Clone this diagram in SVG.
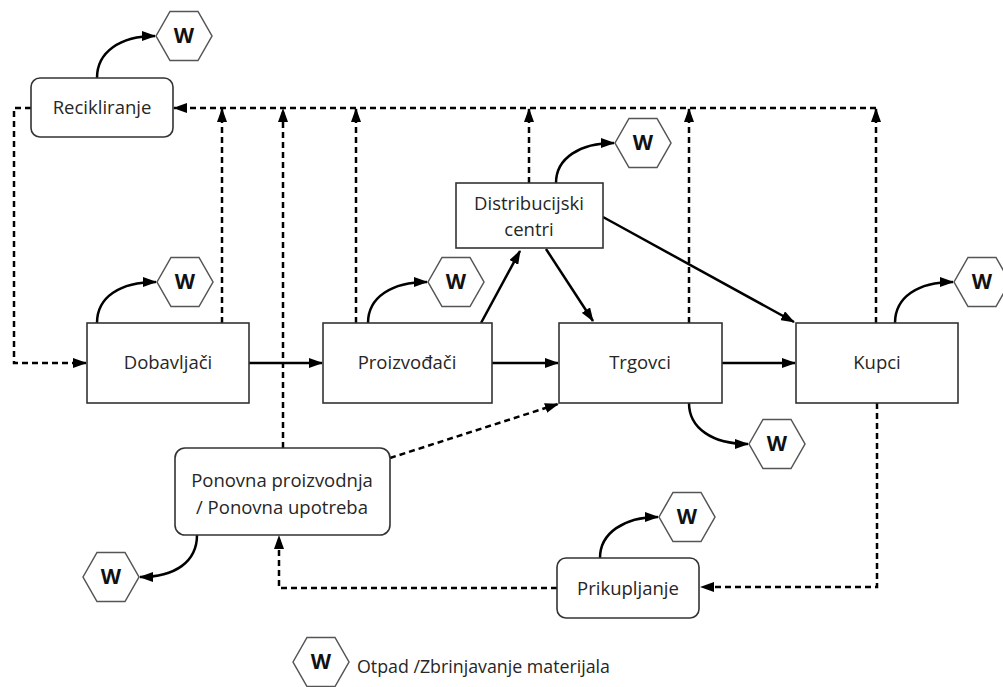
<svg xmlns="http://www.w3.org/2000/svg" xmlns:xlink="http://www.w3.org/1999/xlink" width="1003" height="687" viewBox="0 0 1003 687">
<style>
.box{fill:#fff;stroke:#333;stroke-width:1.6}
.lbl{font-family:"Open Sans","Noto Sans",sans-serif;font-size:18.5px;fill:#262626;text-anchor:middle}
.hex{fill:#fff;stroke:#555;stroke-width:1.5}
.w{font-family:"Open Sans","Liberation Sans",sans-serif;font-size:21px;font-weight:bold;fill:#111;text-anchor:middle}
.solid{fill:none;stroke:#000;stroke-width:2.5}
.dash{fill:none;stroke:#000;stroke-width:2.5;stroke-dasharray:6,4}
.leg{font-family:"Open Sans","Noto Sans",sans-serif;font-size:17.8px;fill:#262626}
</style>
<defs>
<marker id="ah" viewBox="0 0 14 10" refX="13" refY="5" markerWidth="14" markerHeight="10" orient="auto" markerUnits="userSpaceOnUse"><path d="M0,0 L14,5 L0,10 z" fill="#000"/></marker>
<polygon id="hexshape" points="-28,0 -14,-24.5 14,-24.5 28,0 14,24.5 -14,24.5"/>
</defs>
<rect width="1003" height="687" fill="#fff"/>

<g id="connectors">
<path class="dash" d="M876,108 H174" marker-end="url(#ah)"/>
<path class="dash" d="M222,323 V109" marker-end="url(#ah)"/>
<path class="dash" d="M283,448 V109" marker-end="url(#ah)"/>
<path class="dash" d="M356,323 V109" marker-end="url(#ah)"/>
<path class="dash" d="M529,183 V109" marker-end="url(#ah)"/>
<path class="dash" d="M689,323 V109" marker-end="url(#ah)"/>
<path class="dash" d="M876,323 V109" marker-end="url(#ah)"/>
<path class="dash" d="M31,108 H14 V363 H86" marker-end="url(#ah)"/>
<path class="dash" d="M877,403 V587 H701" marker-end="url(#ah)"/>
<path class="dash" d="M557,588 H279 V536" marker-end="url(#ah)"/>
<path class="dash" d="M390,458 L558,404" marker-end="url(#ah)"/>
<path class="solid" d="M249,363 H322" marker-end="url(#ah)"/>
<path class="solid" d="M492,363 H558" marker-end="url(#ah)"/>
<path class="solid" d="M722,363 H795" marker-end="url(#ah)"/>
<path class="solid" d="M481,323 L520,251" marker-end="url(#ah)"/>
<path class="solid" d="M546,249 L593,321" marker-end="url(#ah)"/>
<path class="solid" d="M603,217 L794,322" marker-end="url(#ah)"/>
<path class="solid" d="M97,78 C97,52 120,36 155,36" marker-end="url(#ah)"/>
<path class="solid" d="M97,323 C97,297 120,282 156,282" marker-end="url(#ah)"/>
<path class="solid" d="M368,323 C368,297 392,282 427,282" marker-end="url(#ah)"/>
<path class="solid" d="M556,183 C556,158 580,143 614,143" marker-end="url(#ah)"/>
<path class="solid" d="M895,323 C895,297 918,282 953,282" marker-end="url(#ah)"/>
<path class="solid" d="M600,558 C600,533 624,517 658,517" marker-end="url(#ah)"/>
<path class="solid" d="M689,403 C689,428 712,444 748,444" marker-end="url(#ah)"/>
<path class="solid" d="M197,535 C197,562 175,577 140,577" marker-end="url(#ah)"/>
</g>

<g id="recikliranje"><rect class="box" x="31" y="78" width="142" height="59" rx="9"/><text class="lbl" x="102" y="114">Recikliranje</text></g>
<g id="dobavljaci"><rect class="box" x="87" y="323" width="162" height="80"/><text class="lbl" x="168" y="369">Dobavljači</text></g>
<g id="proizvodjaci"><rect class="box" x="323" y="323" width="169" height="80"/><text class="lbl" x="407" y="369">Proizvođači</text></g>
<g id="trgovci"><rect class="box" x="559" y="323" width="163" height="80"/><text class="lbl" x="640" y="369">Trgovci</text></g>
<g id="kupci"><rect class="box" x="796" y="323" width="162" height="80"/><text class="lbl" x="877" y="369">Kupci</text></g>
<g id="distribucijski"><rect class="box" x="456" y="183" width="147" height="65"/><text class="lbl" x="529" y="210">Distribucijski</text><text class="lbl" x="529" y="236">centri</text></g>
<g id="ponovna"><rect class="box" x="175" y="448" width="215" height="87" rx="10"/><text class="lbl" x="282" y="487">Ponovna proizvodnja</text><text class="lbl" x="282" y="514">/ Ponovna upotreba</text></g>
<g id="prikupljanje"><rect class="box" x="557" y="558" width="142" height="60" rx="9"/><text class="lbl" x="628" y="595">Prikupljanje</text></g>

<g id="w-recikliranje"><use xlink:href="#hexshape" class="hex" x="184" y="36"/><text class="w" x="184" y="43">W</text></g>
<g id="w-dobavljaci"><use xlink:href="#hexshape" class="hex" x="185" y="282"/><text class="w" x="185" y="289">W</text></g>
<g id="w-proizvodjaci"><use xlink:href="#hexshape" class="hex" x="456" y="282"/><text class="w" x="456" y="289">W</text></g>
<g id="w-distribucijski"><use xlink:href="#hexshape" class="hex" x="643" y="143"/><text class="w" x="643" y="150">W</text></g>
<g id="w-kupci"><use xlink:href="#hexshape" class="hex" x="982" y="282"/><text class="w" x="982" y="289">W</text></g>
<g id="w-trgovci"><use xlink:href="#hexshape" class="hex" x="777" y="444"/><text class="w" x="777" y="451">W</text></g>
<g id="w-prikupljanje"><use xlink:href="#hexshape" class="hex" x="687" y="517"/><text class="w" x="687" y="524">W</text></g>
<g id="w-ponovna"><use xlink:href="#hexshape" class="hex" x="111" y="577"/><text class="w" x="111" y="584">W</text></g>

<g id="legend"><use xlink:href="#hexshape" class="hex" x="321" y="662"/><text class="w" x="321" y="669">W</text><text class="leg" x="357" y="673">Otpad /Zbrinjavanje materijala</text></g>
</svg>
